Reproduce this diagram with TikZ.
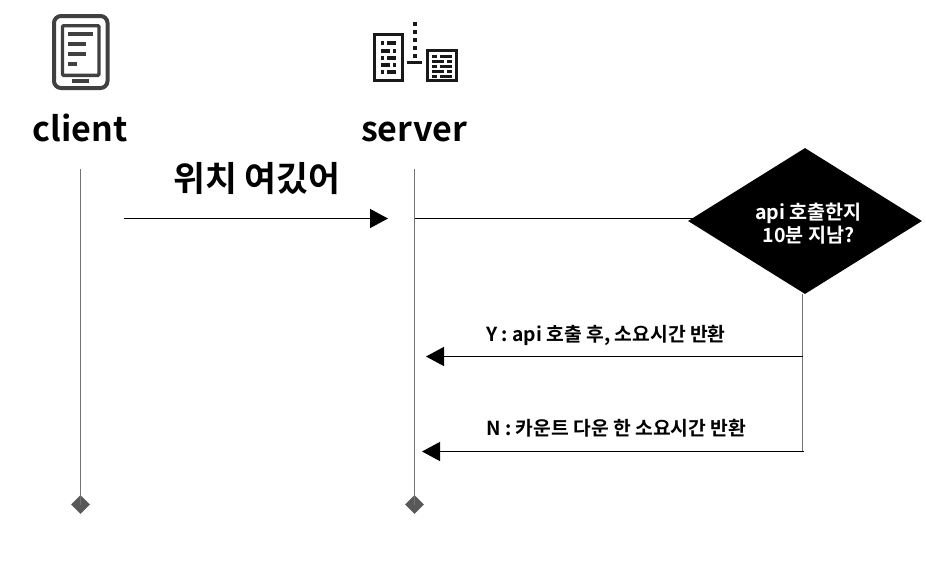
\documentclass[tikz,border=0pt]{standalone}
\usepackage{fontspec}
\setmainfont{Noto Sans CJK KR}[BoldFont={Noto Sans CJK KR Bold}]
\usetikzlibrary{shapes.geometric,arrows.meta}
\tikzset{
  x=1pt,y=-1pt,
  head/.style={font=\fontsize{34}{40}\selectfont\bfseries,inner sep=0,anchor=base},
  lifeline/.style={draw=black!55,line width=1.5pt},
  endmark/.style={diamond,fill=black!65,draw=none,minimum width=19pt,minimum height=19pt,inner sep=0},
  msg/.style={line width=1.3pt,draw=black},
  tip/.style={-{Triangle[length=18pt,width=19pt]}},
  lbl/.style={font=\fontsize{19.3}{22}\selectfont\bfseries,inner sep=0,anchor=base west},
  bar/.style={fill=black!75,draw=none},
  sbar/.style={fill=black!90,draw=none},
}
\begin{document}
\begin{tikzpicture}
\useasboundingbox (0,0) rectangle (926,571);
% client icon
\draw[draw=black!75,line width=4pt,rounded corners=7pt] (54,16) rectangle (107.5,88);
\draw[draw=black!75,line width=3.4pt,rounded corners=1pt] (62.5,25.7) rectangle (99,75.3);
\foreach \ya/\xb in {34/93.3,44/86,54/86,64/77}{\fill[bar] (67.7,\ya-2) rectangle (\xb,\ya+2);}
\fill[bar] (72,79.3) rectangle (89,83.3);
% server icon
\draw[line width=3.3pt,draw=black!90] (374.7,34.7) rectangle (402.3,80.3);
\draw[line width=3.3pt,draw=black!90] (427.4,50.7) rectangle (456.3,80.3);
\foreach \ya/\xa/\xb/\xc/\xd in {43/381/384/387/396,51/381/390/393/396,58/381/384/387/396,65/381/390/393/396,72/381/384/387/396}{
  \fill[sbar] (\xa,\ya-1.6) rectangle (\xb,\ya+1.6);\fill[sbar] (\xc,\ya-1.6) rectangle (\xd,\ya+1.6);}
\foreach \ya/\xa/\xb/\xc/\xd in {56/432/437/440/452,61/432/444/447/452,66/432/437/440/452,71/432/444/447/452,76/432/437/440/452}{
  \fill[sbar] (\xa,\ya-1.5) rectangle (\xb,\ya+1.5);\fill[sbar] (\xc,\ya-1.5) rectangle (\xd,\ya+1.5);}
\fill[sbar] (407,60.5) rectangle (422,63.5);
\foreach \ya in {24,32,40,48,56}{\fill[sbar] (413,\ya-2) rectangle (416.5,\ya+2);}
% heads
\node[head] (client) at (80,141) {client};
\node[head] (server) at (414,141) {server};
\coordinate (ctop) at (80.5,169);
\coordinate (stop) at (414.5,169);
\node[endmark] (cend) at (80.5,504.5) {};
\node[endmark] (send) at (414.5,504.5) {};
\draw[lifeline] (ctop) -- (cend.center);
\draw[lifeline] (stop) -- (send.center);
% decision
\node[diamond,fill=black,draw=none,inner sep=0,minimum width=234pt,minimum height=146pt,aspect=1.6] (dec) at (805,221) {};
\node[font=\fontsize{19.6}{22.5}\selectfont\bfseries,text=white,align=center,inner sep=0] (dectext) at (808.5,223.5) {api 호출한지\\10분 지남?};
% messages
\node[font=\fontsize{34.7}{38}\selectfont\bfseries,inner sep=0] (where) at (257,178) {위치 여깄어};
\coordinate (m1a) at (124,218.5);
\coordinate (m1b) at (388,218.5);
\draw[msg,tip] (m1a) -- (m1b);
\coordinate (m2a) at (415,218.5);
\coordinate (m2b) at (695,218.5);
\draw[msg] (m2a) -- (m2b);
\coordinate (yr) at (802.5,356.5);
\coordinate (yl) at (426,356.5);
\coordinate (nr) at (803.5,451.5);
\coordinate (nl) at (422,451.5);
\draw[lifeline] (dec.south -| yr) -- (yr |- nr);
\draw[msg,tip] (yr) -- (yl);
\draw[msg,tip] (nr) -- (nl);
\node[lbl] (ylabel) at (486,341) {Y : api 호출 후, 소요시간 반환};
\node[lbl] (nlabel) at (486,435) {N : 카운트 다운 한 소요시간 반환};
\end{tikzpicture}
\end{document}
